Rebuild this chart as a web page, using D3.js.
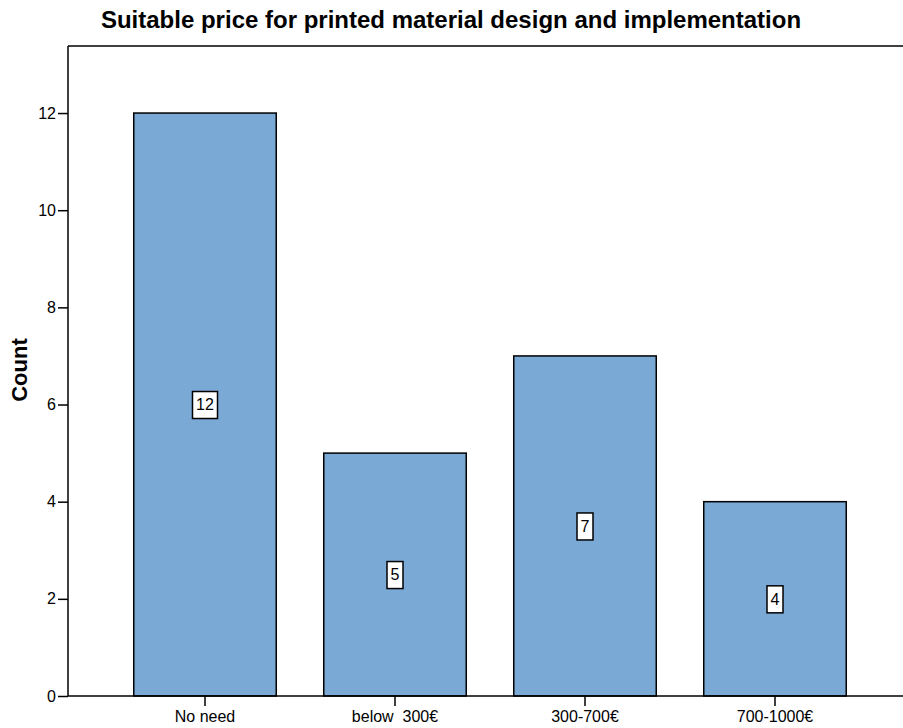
<!DOCTYPE html>
<html>
<head>
<meta charset="utf-8">
<script src="https://cdn.jsdelivr.net/npm/d3@7"></script>
<style>
  body { margin: 0; background: #fff; }
  text { font-family: "Liberation Sans", Arial, sans-serif; }
</style>
</head>
<body>
<div id="chart"></div>
<script>
// Chart data
const categories = ["No need", "below  300€", "300-700€", "700-1000€"];
const counts = [12, 5, 7, 4];
const yTicks = [0, 2, 4, 6, 8, 10, 12];

const svgWidth = 903;
const svgHeight = 728;
const plot = { left: 68, right: 903, top: 46, bottom: 696 };

const svg = d3
  .select("#chart")
  .append("svg")
  .attr("width", svgWidth)
  .attr("height", svgHeight);

// Scales
const x = d3
  .scaleBand()
  .domain(categories)
  .range([110, 870])
  .paddingInner(0.25)
  .paddingOuter(0.125);

const y = d3
  .scaleLinear()
  .domain([0, 13.38])
  .range([plot.bottom, plot.top]);

// Title
svg
  .append("text")
  .attr("x", 451)
  .attr("y", 28)
  .attr("text-anchor", "middle")
  .style("font-size", "24px")
  .style("font-weight", "bold")
  .text("Suitable price for printed material design and implementation");

// Frame top line
svg
  .append("line")
  .attr("x1", plot.left)
  .attr("x2", plot.right)
  .attr("y1", plot.top)
  .attr("y2", plot.top)
  .attr("stroke", "#000")
  .attr("stroke-width", 1.5);

// Bars
svg
  .selectAll(".bar")
  .data(categories)
  .enter()
  .append("rect")
  .attr("class", "bar")
  .attr("x", (d) => x(d))
  .attr("width", x.bandwidth())
  .attr("y", (d, i) => y(counts[i]))
  .attr("height", (d, i) => y(0) - y(counts[i]))
  .attr("fill", "#7BA9D6")
  .attr("stroke", "#000")
  .attr("stroke-width", 1.5);

// Y axis
const yAxis = svg
  .append("g")
  .attr("transform", `translate(${plot.left},0)`)
  .call(d3.axisLeft(y).tickValues(yTicks).tickSize(10).tickPadding(2).tickSizeOuter(0));
yAxis.select(".domain").attr("stroke-width", 1.5).attr("d", `M0,${plot.top}V${plot.bottom}`);
yAxis.selectAll(".tick line").attr("stroke-width", 1.5);
yAxis.selectAll(".tick text").style("font-size", "16px").attr("fill", "#000");

// X axis
const xAxis = svg
  .append("g")
  .attr("transform", `translate(0,${plot.bottom})`)
  .call(d3.axisBottom(x).tickSize(10).tickPadding(5).tickSizeOuter(0));
xAxis.select(".domain").attr("stroke-width", 1.5).attr("d", `M${plot.left},0H${plot.right}`);
xAxis.selectAll(".tick line").attr("stroke-width", 1.5);
xAxis
  .selectAll(".tick text")
  .style("font-size", "16px")
  .style("white-space", "pre")
  .attr("fill", "#000");

// Y axis label
svg
  .append("text")
  .attr("transform", `translate(27,370) rotate(-90)`)
  .attr("text-anchor", "middle")
  .style("font-size", "22px")
  .style("font-weight", "bold")
  .text("Count");

// Value labels in white boxes
const labels = svg
  .selectAll(".val")
  .data(categories)
  .enter()
  .append("g")
  .attr("class", "val")
  .attr(
    "transform",
    (d, i) => `translate(${x(d) + x.bandwidth() / 2},${y(counts[i] / 2)})`
  );

labels.each(function (d, i) {
  const g = d3.select(this);
  const txt = String(counts[i]);
  const w = txt.length > 1 ? 25 : 16;
  g.append("rect")
    .attr("x", -w / 2)
    .attr("y", -13)
    .attr("width", w)
    .attr("height", 27)
    .attr("fill", "#fff")
    .attr("stroke", "#000")
    .attr("stroke-width", 1.5);
  g.append("text")
    .attr("text-anchor", "middle")
    .attr("dy", "0.36em")
    .style("font-size", "16px")
    .text(txt);
});
</script>
</body>
</html>
